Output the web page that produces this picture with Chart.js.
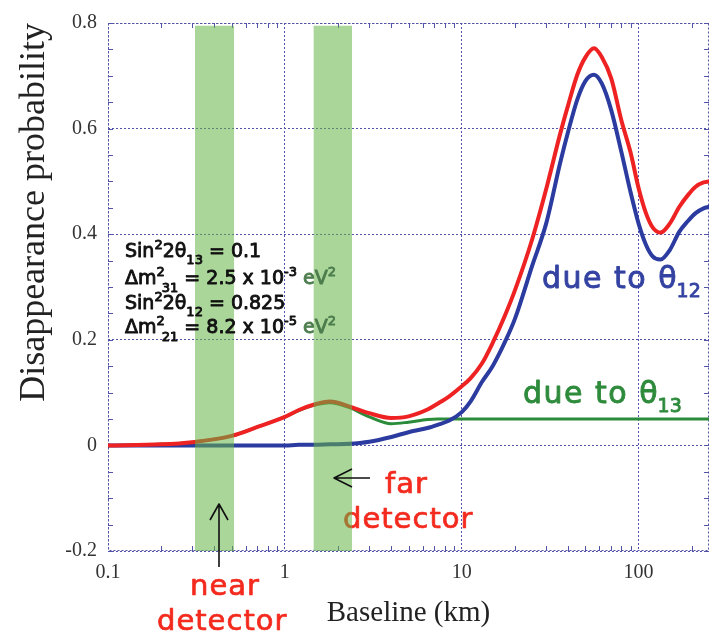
<!DOCTYPE html>
<html><head><meta charset="utf-8">
<script src="https://cdn.jsdelivr.net/npm/chart.js@4.4.1/dist/chart.umd.min.js"></script>
<style>html,body{margin:0;padding:0;background:#fff}#wrap{width:711px;height:634px;position:relative}</style>
</head><body><div id="wrap"><canvas id="c" width="711" height="634"></canvas></div>
<script>
// ---- data ----
const baselineKm  = [0.1, 0.2, 0.3, 0.5, 0.7, 1, 1.2, 1.45, 1.8, 2.3, 3, 4, 5, 6.4, 7.3, 8.5, 10, 11.2, 13, 15, 17.5, 20, 25, 30, 36, 40, 45, 50, 56, 62, 70, 80, 90, 100, 110, 120, 133, 150, 170, 190, 210, 233, 250];
const totalProb   = [0, 0.002, 0.006, 0.018, 0.035, 0.054, 0.067, 0.077, 0.083, 0.074, 0.061, 0.052, 0.055, 0.068, 0.079, 0.093, 0.112, 0.127, 0.155, 0.195, 0.245, 0.294, 0.39, 0.485, 0.59, 0.645, 0.702, 0.735, 0.752, 0.735, 0.695, 0.615, 0.555, 0.487, 0.44, 0.413, 0.403, 0.42, 0.452, 0.474, 0.49, 0.498, 0.5];
const theta12Prob = [0, 0, 0, 0, 0, 0, 0.001, 0.001, 0.002, 0.003, 0.007, 0.016, 0.025, 0.033, 0.039, 0.047, 0.063, 0.083, 0.12, 0.151, 0.195, 0.24, 0.34, 0.42, 0.535, 0.595, 0.655, 0.69, 0.702, 0.685, 0.635, 0.555, 0.48, 0.42, 0.38, 0.358, 0.352, 0.37, 0.405, 0.425, 0.44, 0.449, 0.452];
const theta13Prob = [0, 0.002, 0.006, 0.018, 0.035, 0.054, 0.066, 0.076, 0.081, 0.072, 0.054, 0.041, 0.044, 0.049, 0.05, 0.05, 0.05, 0.05, 0.05, 0.05, 0.05, 0.05, 0.05, 0.05, 0.05, 0.05, 0.05, 0.05, 0.05, 0.05, 0.05, 0.05, 0.05, 0.05, 0.05, 0.05, 0.05, 0.05, 0.05, 0.05, 0.05, 0.05, 0.05];
const nearDetectorKm = [0.31, 0.517];
const farDetectorKm  = [1.45, 2.40];
const bandTop = 0.795;
const xTickValues = [0.1, 1, 10, 100];
const yTickValues = [-0.2, 0, 0.2, 0.4, 0.6, 0.8];
const xRange = [0.1, 250];
const yRange = [-0.2, 0.8];

const GRID = '#5252a8';
const SERIF = "'Liberation Serif', 'Times New Roman', serif";
const SANS = "'DejaVu Sans', sans-serif";

function pts(xs, ys) { return xs.map((x, i) => ({x, y: ys[i]})); }
function band(xs) { return xs.map(x => ({x, y: bandTop})); }

const framePlugin = {
  id: 'frame',
  beforeDatasetsDraw(chart) {
    const {ctx, chartArea: a, scales: {x, y}} = chart;
    ctx.save();
    ctx.strokeStyle = GRID; ctx.lineWidth = 1;
    ctx.setLineDash([2, 2]);
    ctx.strokeRect(a.left + 0.5, a.top + 0.5, a.width - 1, a.height - 1);
    ctx.setLineDash([]);
    ctx.beginPath();
    for (const d of xTickValues) {
      for (let m = 2; m <= 9; m++) {
        const v = d * m;
        if (v > xRange[1]) break;
        const px = Math.round(x.getPixelForValue(v)) + 0.5;
        ctx.moveTo(px, a.bottom); ctx.lineTo(px, a.bottom - 5);
        ctx.moveTo(px, a.top); ctx.lineTo(px, a.top + 5);
      }
    }
    for (let k = 0; k <= 20; k++) {
      const v = yRange[0] + k * 0.05;
      const py = Math.round(y.getPixelForValue(v)) + 0.5;
      ctx.moveTo(a.left, py); ctx.lineTo(a.left + 5, py);
      ctx.moveTo(a.right, py); ctx.lineTo(a.right - 5, py);
    }
    ctx.stroke();
    ctx.restore();
  }
};

function runs(ctx, x, y, list, size, heavy) {
  for (const r of list) {
    const s = r.s || 1;
    ctx.font = `normal ${Math.round(size * s)}px ${SANS}`;
    ctx.fillStyle = r.c || '#111';
    ctx.strokeStyle = r.c || '#111';
    ctx.lineWidth = heavy || 0;
    ctx.lineJoin = 'round';
    ctx.letterSpacing = (r.ls || 0) + 'px';
    const xx = x + (r.dx || 0), yy = y + (r.dy || 0);
    ctx.fillText(r.t, xx, yy);
    if (heavy) ctx.strokeText(r.t, xx, yy);
    x += ctx.measureText(r.t).width + (r.dx || 0);
  }
  ctx.letterSpacing = '0px';
}

const annotPlugin = {
  id: 'annot',
  beforeDatasetsDraw(chart) {
    const ctx = chart.ctx;
    ctx.save();
    ctx.textBaseline = 'alphabetic'; ctx.textAlign = 'left';
    const RED = '#f42a1e';
    runs(ctx, 385, 493, [{t: 'far', c: RED, ls: 1}], 29, 0.7);
    runs(ctx, 343, 528, [{t: 'detector', c: RED, ls: 1}], 29, 0.7);
    ctx.restore();
  },
  afterDatasetsDraw(chart) {
    const ctx = chart.ctx;
    ctx.save();
    ctx.textBaseline = 'alphabetic'; ctx.textAlign = 'left';
    const RED = '#f42a1e', EV = '#4d7d4d';
    runs(ctx, 190, 595, [{t: 'near', c: RED, ls: 1}], 29, 0.7);
    runs(ctx, 157, 630, [{t: 'detector', c: RED, ls: 1}], 29, 0.7);
    // parameters
    const fs = 19, hv = 0.9;
    runs(ctx, 125, 257, [{t: 'Sin'}, {t: '2', s: 0.7, dy: -8}, {t: '2θ'}, {t: '13', s: 0.7, dy: 7}, {t: ' = 0.1'}], fs, hv);
    runs(ctx, 125, 284, [{t: 'Δm'}, {t: '2', s: 0.7, dy: -8}, {t: '31', s: 0.7, dy: 8, dx: -3}, {t: ' = 2.5 x 10'}, {t: '-3', s: 0.7, dy: -8}, {t: ' eV', c: EV}, {t: '2', s: 0.7, dy: -8, c: EV}], fs, hv);
    runs(ctx, 125, 309, [{t: 'Sin'}, {t: '2', s: 0.7, dy: -8}, {t: '2θ'}, {t: '12', s: 0.7, dy: 7}, {t: ' = 0.825'}], fs, hv);
    runs(ctx, 125, 333, [{t: 'Δm'}, {t: '2', s: 0.7, dy: -8}, {t: '21', s: 0.7, dy: 8, dx: -3}, {t: ' = 8.2 x 10'}, {t: '-5', s: 0.7, dy: -8}, {t: ' eV', c: EV}, {t: '2', s: 0.7, dy: -8, c: EV}], fs, hv);
    // series labels
    const BLUE = '#3443a2', GREEN = '#2e8b3c';
    runs(ctx, 542, 288, [{t: 'due to ', c: BLUE, ls: 1.5}, {t: 'θ', c: BLUE}, {t: '12', c: BLUE, s: 0.62, dy: 9}], 30, 0.9);
    runs(ctx, 523, 403, [{t: 'due to ', c: GREEN, ls: 1.5}, {t: 'θ', c: GREEN}, {t: '13', c: GREEN, s: 0.62, dy: 9}], 30, 0.9);
    // arrows
    ctx.strokeStyle = '#111'; ctx.lineWidth = 1.6; ctx.setLineDash([]);
    ctx.beginPath();
    ctx.moveTo(219, 567); ctx.lineTo(219, 504);
    ctx.moveTo(210, 520); ctx.lineTo(219, 504); ctx.lineTo(228, 520);
    ctx.moveTo(370, 478); ctx.lineTo(334, 478);
    ctx.moveTo(352, 469); ctx.lineTo(334, 478); ctx.lineTo(352, 487);
    ctx.stroke();
    ctx.restore();
  }
};

const bandColor = 'rgba(100,180,70,0.55)';
const lineCommon = {pointRadius: 0, fill: false, cubicInterpolationMode: 'monotone', borderCapStyle: 'round', borderJoinStyle: 'round'};

new Chart(document.getElementById('c'), {
  type: 'line',
  data: {
    datasets: [
      {label: 'near', data: band(nearDetectorKm), fill: {value: yRange[0]}, backgroundColor: bandColor, borderWidth: 0, pointRadius: 0, tension: 0, order: 0},
      {label: 'far', data: band(farDetectorKm), fill: {value: yRange[0]}, backgroundColor: bandColor, borderWidth: 0, pointRadius: 0, tension: 0, order: 0},
      Object.assign({label: 'total', data: pts(baselineKm, totalProb), borderColor: '#ee2222', borderWidth: 4, order: 1}, lineCommon),
      Object.assign({label: 'theta12', data: pts(baselineKm, theta12Prob), borderColor: '#2b3b9f', borderWidth: 4, order: 2}, lineCommon),
      Object.assign({label: 'theta13', data: pts(baselineKm, theta13Prob), borderColor: '#2a8c3a', borderWidth: 3, order: 3}, lineCommon)
    ]
  },
  options: {
    responsive: false,
    animation: false,
    layout: {padding: {top: 17, right: 2, left: 0, bottom: 0}},
    plugins: {legend: {display: false}, tooltip: {enabled: false}},
    scales: {
      x: {
        type: 'logarithmic', min: xRange[0], max: xRange[1],
        afterBuildTicks: s => { s.ticks = xTickValues.map(v => ({value: v, major: true})); },
        afterFit: s => { s.height = 83; },
        ticks: {callback: v => String(v), font: {family: SERIF, size: 20}, color: '#333', padding: 10, autoSkip: false, maxRotation: 0},
        grid: {color: GRID, lineWidth: 1, drawTicks: false},
        border: {display: false, dash: [2, 2]},
        title: {display: true, text: 'Baseline (km)', font: {family: SERIF, size: 29}, color: '#222', padding: {top: 0, bottom: 3}}
      },
      y: {
        type: 'linear', min: yRange[0], max: yRange[1],
        afterBuildTicks: s => { s.ticks = yTickValues.map(v => ({value: v})); },
        afterFit: s => { s.width = 108; },
        ticks: {callback: v => String(Math.round(v * 10) / 10), font: {family: SERIF, size: 20}, color: '#333', padding: 11},
        grid: {color: GRID, lineWidth: 1, drawTicks: false},
        border: {display: false, dash: [2, 2]},
        title: {display: true, text: 'Disappearance probability', align: 'end', font: {family: SERIF, size: 36}, color: '#222', padding: {top: 13, bottom: 0}}
      }
    }
  },
  plugins: [framePlugin, annotPlugin]
});
</script>
</body></html>
